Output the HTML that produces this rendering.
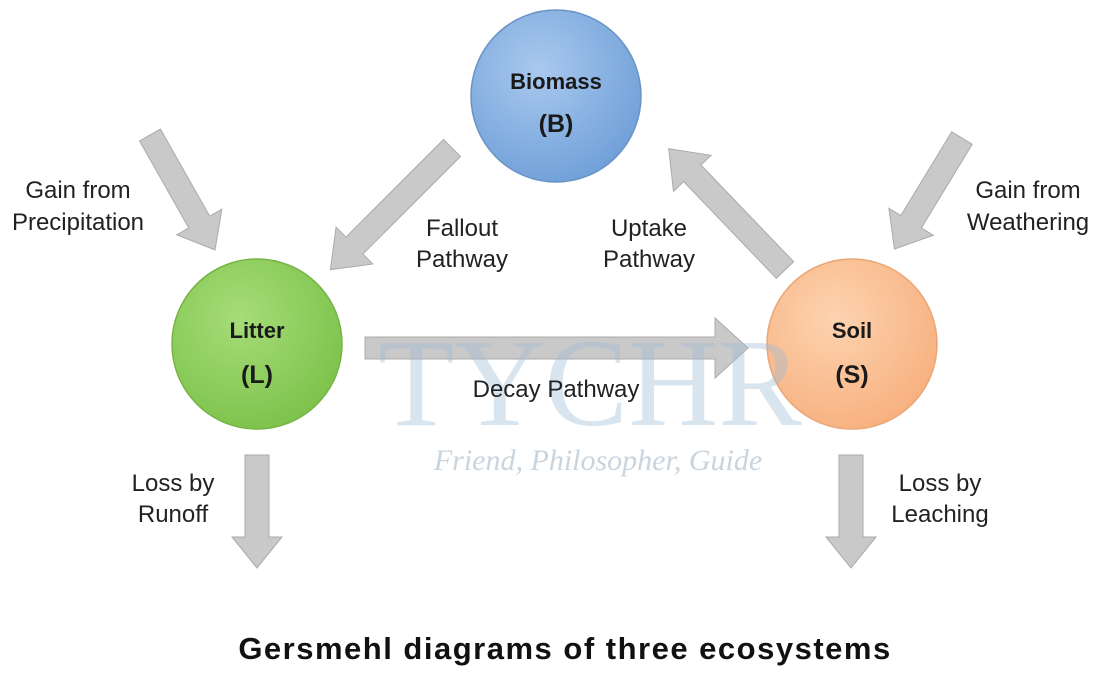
<!DOCTYPE html>
<html><head><meta charset="utf-8"><style>
html,body{margin:0;padding:0;background:#fff;width:1101px;height:687px;overflow:hidden}
svg{display:block}
.s{font-family:"Liberation Sans",sans-serif}
.r{font-family:"Liberation Serif",serif}
</style></head><body>
<svg width="1101" height="687" viewBox="0 0 1101 687">
<defs>
<radialGradient id="gb" cx="40%" cy="35%" r="70%"><stop offset="0" stop-color="#a9c9ee"/><stop offset="1" stop-color="#6f9fd8"/></radialGradient>
<radialGradient id="gl" cx="40%" cy="35%" r="70%"><stop offset="0" stop-color="#a6dc78"/><stop offset="1" stop-color="#7cc24a"/></radialGradient>
<radialGradient id="gs" cx="40%" cy="35%" r="70%"><stop offset="0" stop-color="#fdd3b0"/><stop offset="1" stop-color="#f7b07e"/></radialGradient>
</defs>
<g fill="#c9c9c9" stroke="#aaaaaa" stroke-width="1">
<g transform="translate(150,135) rotate(60.5)"><polygon points="0,-12 100,-12 100,-26 132,0 100,26 100,12 0,12"/></g>
<g transform="translate(452,148) rotate(135)"><polygon points="0,-12 138,-12 138,-26 172,0 138,26 138,12 0,12"/></g>
<g transform="translate(785,270) rotate(226.2)"><polygon points="0,-12 134,-12 134,-26 168,0 134,26 134,12 0,12"/></g>
<g transform="translate(962,138) rotate(121.3)"><polygon points="0,-12 98,-12 98,-26 130,0 98,26 98,12 0,12"/></g>
<g transform="translate(365,348) rotate(0)"><polygon points="0,-11 350,-11 350,-30 383,0 350,30 350,11 0,11"/></g>
<g transform="translate(257,455) rotate(90)"><polygon points="0,-12 82,-12 82,-25 113,0 82,25 82,12 0,12"/></g>
<g transform="translate(851,455) rotate(90)"><polygon points="0,-12 82,-12 82,-25 113,0 82,25 82,12 0,12"/></g>
</g>
<ellipse cx="556" cy="96" rx="85" ry="86" fill="url(#gb)" stroke="#6a94c6" stroke-width="1.5"/>
<ellipse cx="257" cy="344" rx="85" ry="85" fill="url(#gl)" stroke="#76b446" stroke-width="1.5"/>
<ellipse cx="852" cy="344" rx="85" ry="85" fill="url(#gs)" stroke="#eaa676" stroke-width="1.5"/>
<text class="r" x="590" y="425" font-size="125" text-anchor="middle" fill="#9fbcd6" opacity="0.4">TYCHR</text>
<text class="r" x="598" y="470" font-size="30" font-style="italic" fill="#c8d4de" text-anchor="middle">Friend, Philosopher, Guide</text>
<g class="s" font-weight="bold" fill="#1a1a1a" font-size="22" text-anchor="middle">
<text x="556" y="89">Biomass</text><text x="556" y="132" font-size="25">(B)</text>
<text x="257" y="338">Litter</text><text x="257" y="383" font-size="25">(L)</text>
<text x="852" y="338">Soil</text><text x="852" y="383" font-size="25">(S)</text>
</g>
<g class="s" fill="#222" font-size="24" text-anchor="middle">
<text x="78" y="198">Gain from</text><text x="78" y="230">Precipitation</text>
<text x="462" y="236">Fallout</text><text x="462" y="267">Pathway</text>
<text x="649" y="236">Uptake</text><text x="649" y="267">Pathway</text>
<text x="1028" y="198">Gain from</text><text x="1028" y="230">Weathering</text>
<text x="556" y="397">Decay Pathway</text>
<text x="173" y="491">Loss by</text><text x="173" y="522">Runoff</text>
<text x="940" y="491">Loss by</text><text x="940" y="522">Leaching</text>
</g>
<text class="s" x="565" y="659" font-size="31" font-weight="bold" fill="#111" text-anchor="middle" letter-spacing="1.5">Gersmehl diagrams of three ecosystems</text>
</svg>
</body></html>
